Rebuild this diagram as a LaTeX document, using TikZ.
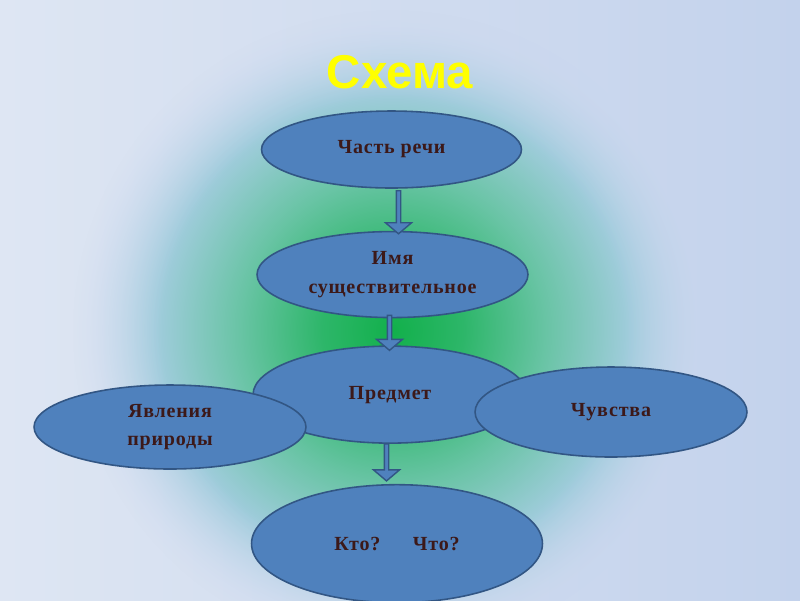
\documentclass[tikz,border=0pt]{standalone}
\usepackage{fontspec}
\setmainfont{Liberation Serif}
\newfontfamily\boxfont[LetterSpace=4]{Liberation Serif}
\newfontfamily\titlefont{Liberation Sans}
\usetikzlibrary{positioning,shapes.geometric,calc,fadings}

\definecolor{bgl}{RGB}{222,230,243}
\definecolor{bgr}{RGB}{195,210,236}
\definecolor{bgmid}{RGB}{201,215,238}
\definecolor{glowc}{RGB}{18,176,75}
\definecolor{glowa}{RGB}{45,182,105}
\definecolor{glowb}{RGB}{105,196,165}
\definecolor{glowd}{RGB}{160,204,220}
\definecolor{boxfill}{RGB}{79,129,189}
\definecolor{boxline}{RGB}{50,86,132}
\definecolor{boxtext}{RGB}{60,25,25}

\pgfdeclareradialshading{glow}{\pgfpointorigin}{color(0bp)=(glowc); color(5.5bp)=(glowa); color(12bp)=(glowb); color(18.5bp)=(glowd); color(24bp)=(bgmid); color(50bp)=(bgmid)}
\pgfdeclareradialshading{glowmask}{\pgfpointorigin}{color(0bp)=(white); color(18bp)=(white); color(25bp)=(black); color(50bp)=(black)}
\pgfdeclarefading{glowfade}{\pgfuseshading{glowmask}}

% block arrow: from node, to node, x shift, start gap, tip gap
\newcommand{\flowarrow}[5]{%
  \coordinate (fa-s) at ($(#1.south)+(#3,#4)$);
  \coordinate (fa-e) at ($(fa-s |- #2.north)+(0,#5)$);
  \filldraw[blockarr] ($(fa-s)+(-2.2,0)$) -- ($(fa-e)+(-2.2,-11)$) -- ($(fa-e)+(-13,-11)$)
    -- (fa-e) -- ($(fa-e)+(13,-11)$) -- ($(fa-e)+(2.2,-11)$) -- ($(fa-s)+(2.2,0)$) -- cycle;}

\begin{document}
\begin{tikzpicture}[x=0.02cm, y=-0.02cm,
  oval/.style={ellipse, draw=boxline, fill=boxfill, line width=0.9pt, inner sep=0pt,
    align=center, text=boxtext, font=\boxfont\bfseries\fontsize{11.4}{16}\selectfont},
  blockarr/.style={draw=boxline, fill=boxfill, line width=0.8pt, line join=miter}]
% background
\useasboundingbox (0,0) rectangle (800,600);
\clip (0,0) rectangle (800,600);
\shade[left color=bgl, right color=bgr] (0,0) rectangle (800,600);
\shade[shading=glow, path fading=glowfade] (393,330) circle [radius=6.4cm];

\node[font=\titlefont\bfseries\fontsize{27}{30}\selectfont, text={rgb,255:red,255;green,255;blue,0}] (title) at (400,72) {Схема};

\node[oval, minimum width=5.2cm, minimum height=1.54cm] (part) at (391.5,149.5) {Часть речи};
\node[oval, below=0.84cm of part, xshift=0.02cm, minimum width=5.42cm, minimum height=1.72cm] (noun)
  {Имя\\существительное};
\node[oval, below=0.54cm of noun, xshift=-0.05cm, minimum width=5.48cm, minimum height=1.94cm] (object)
  {Предмет};
\node[oval, minimum width=5.44cm, minimum height=1.68cm] (nature) at (170,427) {Явления\\природы};
\node[oval, minimum width=5.44cm, minimum height=1.8cm] (feelings) at (611,412) {Чувства};
\node[oval, below=0.8cm of object, xshift=0.14cm, minimum width=5.82cm, minimum height=2.36cm] (question)
  {Кто?\hspace{0.65cm}Что?};

\flowarrow{part}{noun}{7}{2}{3}
\flowarrow{noun}{object}{-3}{-3}{5}
\flowarrow{object}{question}{-3.5}{0}{-3}
\end{tikzpicture}
\end{document}
